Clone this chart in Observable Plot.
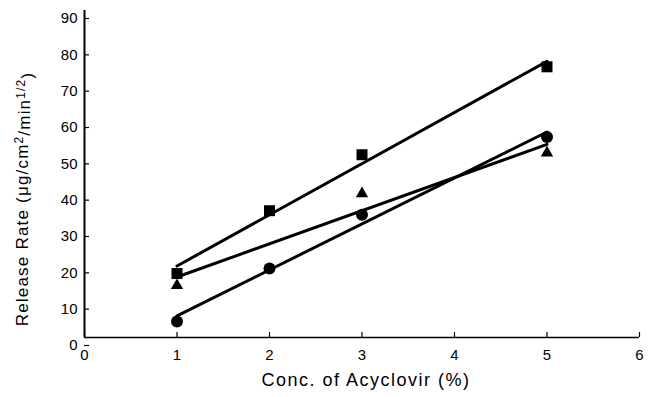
<!DOCTYPE html>
<html><head><meta charset="utf-8">
<script src="https://cdn.jsdelivr.net/npm/d3@7"></script>
<script src="https://cdn.jsdelivr.net/npm/@observablehq/plot@0.6"></script>
<style>body{margin:0;background:#fff}</style>
</head><body><div id="chart"></div>
<script>
const conc = [1, 2, 3, 5];
const squareRate = [17.6, 34.9, 50.3, 74.5];
const triangleConc = [1, 3, 5];
const triangleRate = [14.3, 39.6, 50.8];
const circleRate = [4.4, 19.0, 33.8, 55.2];
const xTicks = [0, 1, 2, 3, 4, 5, 6];
const yTicks = [0, 10, 20, 30, 40, 50, 60, 70, 80, 90];
const xLabel = "Conc. of Acyclovir (%)";
const yLabel = "Release Rate (μg/cm2/min1/2)";

const squares = conc.map((c, i) => ({conc: c, rate: squareRate[i]}));
const triangles = triangleConc.map((c, i) => ({conc: c, rate: triangleRate[i]}));
const circles = conc.map((c, i) => ({conc: c, rate: circleRate[i]}));

const chart = Plot.plot({
  width: 655, height: 397,
  marginLeft: 84, marginRight: 16, marginTop: 10, marginBottom: 60,
  x: {domain: [0, 6]},
  y: {domain: [0, 90]},
  style: {fontFamily: "'Liberation Sans', Arial, sans-serif", background: "white", color: "black"},
  marks: [
    Plot.ruleY([0], {stroke: "black", strokeWidth: 1.5}),
    Plot.ruleX([0], {stroke: "black", strokeWidth: 2}),
    Plot.axisX(xTicks, {tickSize: -5, tickPadding: 17, fontSize: 15, label: null, stroke: "black", strokeWidth: 1.2}),
    Plot.axisY(yTicks, {tickSize: -5, tickPadding: 12, fontSize: 15, dy: 8, label: null, stroke: "black", strokeWidth: 1.2}),
    Plot.linearRegressionY(squares, {x: "conc", y: "rate", ci: 0, stroke: "black", strokeWidth: 3}),
    Plot.linearRegressionY(triangles, {x: "conc", y: "rate", ci: 0, stroke: "black", strokeWidth: 3}),
    Plot.linearRegressionY(circles, {x: "conc", y: "rate", ci: 0, stroke: "black", strokeWidth: 3}),
    Plot.dot(squares, {x: "conc", y: "rate", symbol: "square", r: 6.2, fill: "black", stroke: "none"}),
    Plot.dot(triangles, {x: "conc", y: "rate", symbol: "triangle", r: 4.6, fill: "black", stroke: "none"}),
    Plot.dot(circles, {x: "conc", y: "rate", symbol: "circle", r: 6, fill: "black", stroke: "none"}),
    Plot.text([xLabel], {text: d => d, frameAnchor: "bottom", textAnchor: "middle", dy: 48, dx: 4, fontSize: 18, fill: "black"}),
    Plot.text([yLabel], {text: d => d, frameAnchor: "left", textAnchor: "middle", rotate: -90, dx: -62, dy: 25, fontSize: 17, fill: "black"})
  ]
});

d3.select(chart).selectAll("text").each(function() {
  if (this.textContent === xLabel) {
    d3.select(this).attr("letter-spacing", "1.5px");
  }
  if (this.textContent === yLabel) {
    const t = d3.select(this);
    t.attr("letter-spacing", "1.2px");
    t.text(null);
    t.append("tspan").text("Release Rate (μg/cm");
    t.append("tspan").attr("dy", "-0.45em").attr("font-size", "0.7em").text("2");
    t.append("tspan").attr("dy", "0.45em").text("/min");
    t.append("tspan").attr("dy", "-0.45em").attr("font-size", "0.7em").text("1/2");
    t.append("tspan").attr("dy", "0.45em").text(")");
  }
});
document.getElementById("chart").append(chart);
</script>
</body></html>
